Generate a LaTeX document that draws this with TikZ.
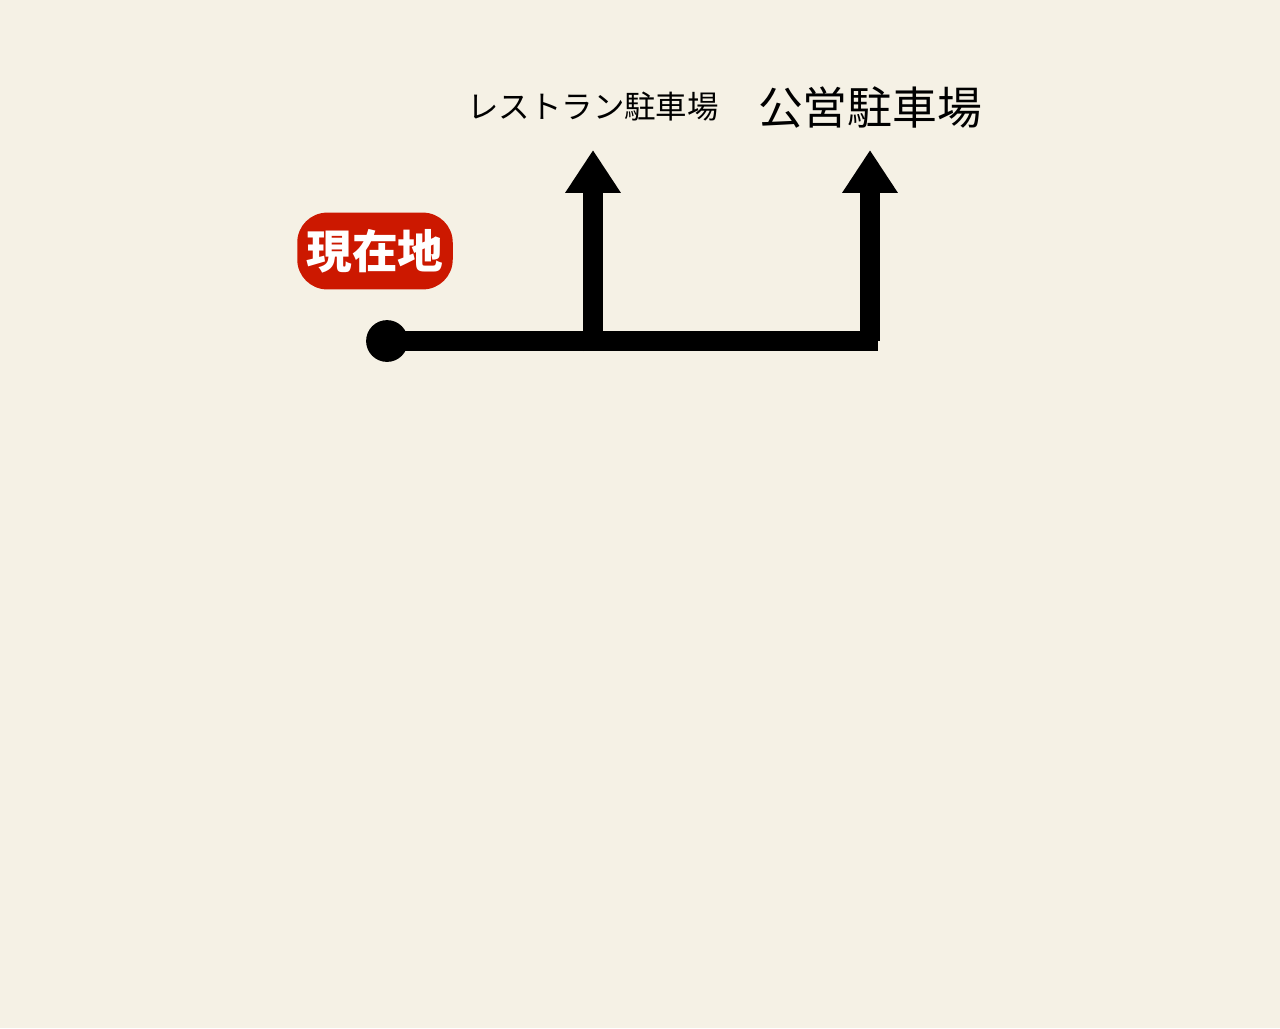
\documentclass[tikz,border=0pt]{standalone}
\usepackage{fontspec}
\newfontfamily\cjk{Noto Sans CJK JP}
\usetikzlibrary{arrows.meta}
\definecolor{paper}{RGB}{245,241,229}
\definecolor{badgered}{RGB}{204,24,0}
\tikzset{
route/.style={line width=11.3pt},
routearrow/.style={route,-{Triangle[width=30pt,length=24.4pt]}},
}

\begin{document}
\begin{tikzpicture}[x=0.02cm,y=-0.02cm]
\fill[paper] (0,0) rectangle (1280,1028);
\useasboundingbox (0,0) rectangle (1280,1028);

\node (here) at (387,341)[circle,fill,inner sep=0pt,minimum size=23.8pt]{};
\node (herelabel) at (375,251)[fill=badgered,rounded corners=17pt,minimum width=88.5pt,minimum height=43.7pt,text=white,font=\cjk\bfseries\fontsize{26pt}{26pt}\selectfont]{現在地};

\coordinate (end) at (878,341);
\coordinate (fork1) at (593,351);
\coordinate (fork2) at (870,341);
\coordinate (tip1) at (593,150);
\coordinate (tip2) at (870,150);

\node (rest) at (593,107)[font=\cjk\fontsize{17.9pt}{18pt}\selectfont]{レストラン駐車場};
\node (koei) at (870,107)[font=\cjk\fontsize{25.5pt}{26pt}\selectfont]{公営駐車場};

\draw[route] (here.center) -- (end);
\draw[routearrow] (fork1) -- (tip1);
\draw[routearrow] (fork2) -- (tip2);
\end{tikzpicture}
\end{document}
